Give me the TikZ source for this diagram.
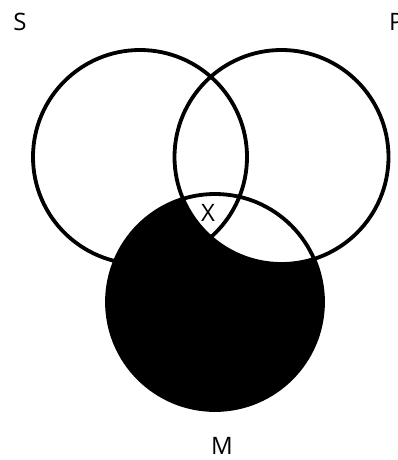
\documentclass[tikz,border=0pt]{standalone}
\usepackage{fontspec}
\setmainfont{Open Sans}
\begin{document}
\begin{tikzpicture}[x=1pt,y=-1pt,
  ring/.style={draw=black,line width=3.8pt},
  lbl/.style={font=\fontsize{24}{26}\selectfont,inner sep=0pt}]
\useasboundingbox[fill=white] (0,0) rectangle (397,460);
\coordinate (cS) at (140,157);
\coordinate (cP) at (281.5,157);
\coordinate (cM) at (215,302);
\begin{scope}
  \clip (cM) circle (108.5);
  \fill[black] (cM) circle (108.5);
  \fill[white] (cP) circle (107);
\end{scope}
\draw[ring] (cS) circle (107);
\draw[ring] (cP) circle (107);
\draw[ring] (cM) circle (108);
\node[lbl] (lS) at (20,22) {S};
\node[lbl,anchor=west] (lP) at (389,22) {P};
\node[lbl] (lX) at (208,213) {X};
\node[lbl] (lM) at (222,446) {M};
\end{tikzpicture}
\end{document}
